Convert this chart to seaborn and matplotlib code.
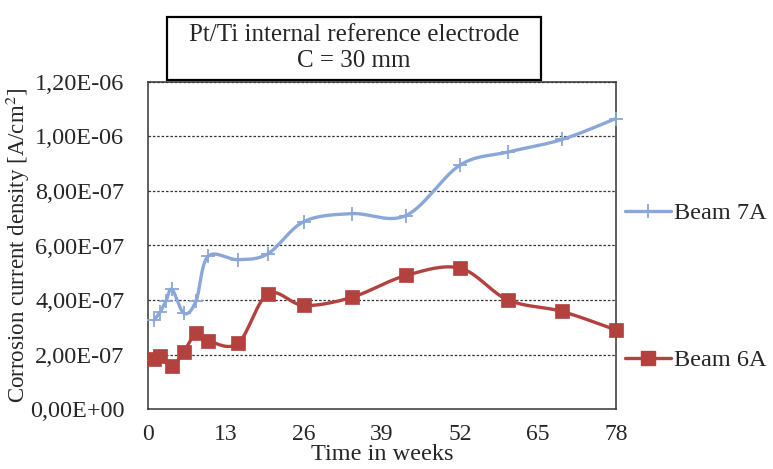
import numpy as np
import pandas as pd
import matplotlib
matplotlib.use("Agg")
import matplotlib.pyplot as plt
import seaborn as sns
from matplotlib.lines import Line2D
from matplotlib.patches import Rectangle

# ---- data ----
weeks_7a = [1, 2, 3, 4, 6, 8, 10, 15, 20, 26, 34, 43, 52, 60, 69, 78]
beam_7a = [3.25e-7, 3.55e-7, 3.96e-7, 4.39e-7, 3.51e-7, 3.96e-7, 5.60e-7, 5.48e-7,
           5.70e-7, 6.88e-7, 7.17e-7, 7.10e-7, 8.95e-7, 9.43e-7, 9.89e-7, 1.066e-6]
weeks_6a = [1, 2, 4, 6, 8, 10, 15, 20, 26, 34, 43, 52, 60, 69, 78]
beam_6a = [1.84e-7, 1.93e-7, 1.59e-7, 2.11e-7, 2.78e-7, 2.51e-7, 2.41e-7, 4.23e-7,
           3.80e-7, 4.10e-7, 4.90e-7, 5.17e-7, 4.00e-7, 3.58e-7, 2.90e-7]
x_ticks = [0, 13, 26, 39, 52, 65, 78]
y_ticks = [0, 2e-7, 4e-7, 6e-7, 8e-7, 1e-6, 1.2e-6]
y_ticklabels = ["0,00E+00", "2,00E-07", "4,00E-07", "6,00E-07", "8,00E-07", "1,00E-06", "1,20E-06"]
title_lines = ["Pt/Ti internal reference electrode", "C = 30 mm"]
series_names = ["Beam 7A", "Beam 6A"]

BLUE = "#8BA7D7"
RED = "#B3413E"

sns.set_style("white")
plt.rcParams["font.family"] = ["Liberation Serif", "DejaVu Serif"]
plt.rcParams["mathtext.fontset"] = "stix"

W, H = 773, 469
fig = plt.figure(figsize=(W / 100, H / 100), dpi=100)
ax = fig.add_axes([148 / W, 1 - 409 / H, (616 - 148) / W, (409 - 82) / H])

XR = (0, 78)
YR = (0, 1.2e-6)
ax.set_xlim(*XR)
ax.set_ylim(*YR)


def smooth(xs, ys, n=30):
    # Catmull-Rom (Excel-like) smoothing in display-normalized space
    sx = (XR[1] - XR[0]) / 468.0
    sy = (YR[1] - YR[0]) / 327.0
    P = np.column_stack([np.asarray(xs, float) / sx, np.asarray(ys, float) / sy])
    out = [P[0]]
    for i in range(len(P) - 1):
        p0 = P[i - 1] if i > 0 else P[i]
        p1 = P[i]
        p2 = P[i + 1]
        p3 = P[i + 2] if i + 2 < len(P) else P[i + 1]
        c1 = p1 + (p2 - p0) / 6.0
        c2 = p2 - (p3 - p1) / 6.0
        t = np.linspace(0, 1, n)[1:, None]
        seg = ((1 - t) ** 3) * p1 + 3 * ((1 - t) ** 2) * t * c1 + 3 * (1 - t) * t ** 2 * c2 + t ** 3 * p2
        out.extend(seg)
    out = np.array(out)
    return out[:, 0] * sx, out[:, 1] * sy


# gridlines
for yv in y_ticks[1:]:
    ax.axhline(yv, color="#333333", lw=0.9, ls=(0, (2, 1.5)), zorder=1)

sx7, sy7 = smooth(weeks_7a, beam_7a)
sx6, sy6 = smooth(weeks_6a, beam_6a)
ax.plot(sx7, sy7, color=BLUE, lw=2.4, zorder=3, solid_capstyle="round")
ax.plot(sx6, sy6, color=RED, lw=2.4, zorder=3, solid_capstyle="round")

df7 = pd.DataFrame({"week": weeks_7a, "val": beam_7a})
df6 = pd.DataFrame({"week": weeks_6a, "val": beam_6a})
sns.scatterplot(data=df7, x="week", y="val", ax=ax, marker="+", s=110, color=BLUE,
                linewidth=1.3, zorder=4, legend=False, clip_on=False)
sns.scatterplot(data=df6, x="week", y="val", ax=ax, marker="s", s=110, color=RED,
                edgecolor=RED, linewidth=0.5, zorder=4, legend=False, clip_on=False)

FS = 17.5
ax.set_xticks(x_ticks)
ax.set_xticklabels([str(v) for v in x_ticks], fontsize=17)
ax.set_yticks(y_ticks)
ax.set_yticklabels(y_ticklabels, fontsize=FS)
ax.tick_params(axis="both", direction="out", length=6, width=1, color="#333333")
ax.tick_params(axis="y", pad=11)
ax.tick_params(axis="x", pad=5)
for s in ax.spines.values():
    s.set_color("#333333")
    s.set_linewidth(1.1)
    s.set_visible(True)

ax.set_xlabel("Time in weeks", fontsize=FS, labelpad=-1)
ax.set_ylabel(r"Corrosion current density [A/cm$^2$]", fontsize=16.5)
ax.yaxis.set_label_coords(-116 / 468, 0.5)

# title box
fig.add_artist(Rectangle((167 / W, 1 - 80 / H), (541 - 167) / W, (80 - 17) / H,
                         transform=fig.transFigure, fc="white", ec="black", lw=1.6, zorder=5))
fig.text(354 / W, 1 - 48 / H, "\n".join(title_lines), fontsize=18, linespacing=1.2,
         ha="center", va="center", zorder=6)

handles = [Line2D([], [], color=BLUE, lw=2.4, marker="+", ms=10, mew=1.3),
           Line2D([], [], color=RED, lw=2.4, marker="s", ms=10)]
for h, name, yc in [(handles[0], series_names[0], 213), (handles[1], series_names[1], 360)]:
    fig.legend([h], [name], loc="center left", bbox_to_anchor=(625 / W, 1 - yc / H),
               frameon=False, fontsize=FS, handlelength=1.9, handletextpad=0.1,
               borderpad=0, borderaxespad=0)

fig.savefig("out.png", dpi=100, facecolor="white")
